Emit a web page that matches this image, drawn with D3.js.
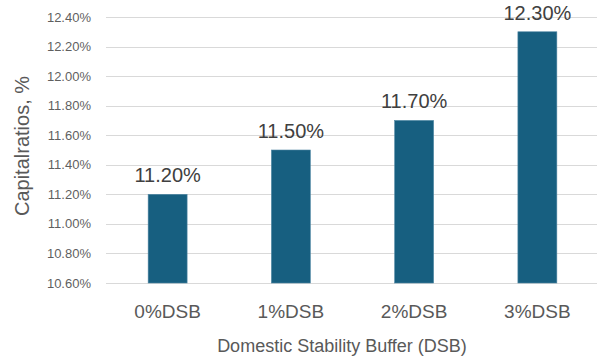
<!DOCTYPE html>
<html><head><meta charset="utf-8">
<script src="https://cdn.jsdelivr.net/npm/d3@7"></script>
<style>body{margin:0;background:#fff}svg{display:block}</style>
</head><body>
<script>
const categories = ["0%DSB","1%DSB","2%DSB","3%DSB"];
const values = [11.20, 11.50, 11.70, 12.30];
const yTicks = [10.60,10.80,11.00,11.20,11.40,11.60,11.80,12.00,12.20,12.40];
const W=597,H=360;
const font = "'Liberation Sans', Arial, sans-serif";
const svg = d3.select("body").append("svg").attr("width",W).attr("height",H);
const x = d3.scaleBand().domain(categories).range([106,599]).paddingInner(0.684).paddingOuter(0.342);
const y = d3.scaleLinear().domain([10.6,12.4]).range([283,17]);
// grid
svg.append("g").selectAll("line").data(yTicks).join("line")
 .attr("x1",106).attr("x2",597).attr("y1",d=>Math.round(y(d))+0.5).attr("y2",d=>Math.round(y(d))+0.5)
 .attr("stroke","#d9d9d9").attr("stroke-width",1);
// y tick labels
svg.append("g").selectAll("text").data(yTicks).join("text")
 .attr("x",91).attr("y",d=>y(d)).attr("dy","0.35em").attr("text-anchor","end")
 .attr("font-family",font).attr("font-size",13).attr("fill","#5f5f5f")
 .text(d=>d.toFixed(2)+"%");
// bars
svg.append("g").selectAll("rect").data(values).join("rect")
 .attr("x",(d,i)=>x(categories[i])).attr("width",x.bandwidth())
 .attr("y",d=>y(d)).attr("height",d=>y(10.6)-y(d))
 .attr("fill","#175f80").attr("stroke","#4f86a2").attr("stroke-width",0.6);
// data labels
svg.append("g").selectAll("text").data(values).join("text")
 .attr("x",(d,i)=>x(categories[i])+x.bandwidth()/2).attr("y",d=>y(d)-12)
 .attr("text-anchor","middle").attr("font-family",font).attr("font-size",20).attr("fill","#404040")
 .text(d=>d.toFixed(2)+"%");
// category labels
svg.append("g").selectAll("text").data(categories).join("text")
 .attr("x",d=>x(d)+x.bandwidth()/2).attr("y",318)
 .attr("text-anchor","middle").attr("font-family",font).attr("font-size",19).attr("fill","#595959")
 .text(d=>d);
// axis titles
svg.append("text").attr("x",342).attr("y",352).attr("text-anchor","middle")
 .attr("font-family",font).attr("font-size",18).attr("fill","#595959").text("Domestic Stability Buffer (DSB)");
svg.append("text").attr("transform","translate(29,146) rotate(-90)").attr("text-anchor","middle")
 .attr("font-family",font).attr("font-size",20).attr("fill","#595959").text("Capitalratios, %");
</script>
</body></html>
